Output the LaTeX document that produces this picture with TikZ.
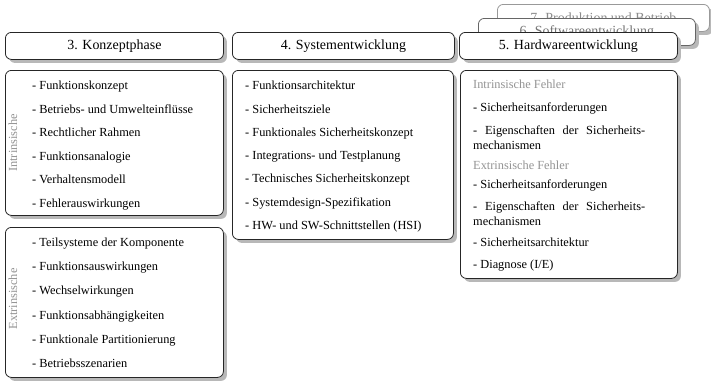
\documentclass[tikz,border=0pt]{standalone}
\usepackage{fontspec}
\setmainfont{Liberation Serif}
\usetikzlibrary{shadows}
\definecolor{lblgray}{gray}{0.58}
\definecolor{edge}{gray}{0.15}
\newcommand{\itmfont}{\fontsize{12.4}{14}\selectfont}
\newcommand{\hdrfont}{\fontsize{14}{16}\selectfont}
\tikzset{
  box/.style={draw=edge, line width=0.8bp, rounded corners=6bp, fill=white,
    anchor=north west, inner sep=0pt,
    drop shadow={shadow xshift=3.5bp, shadow yshift=-3.5bp, fill=black!28, opacity=1}},
  hdr/.style={box, minimum height=27bp, font=\hdrfont},
  item/.style={anchor=base west, inner sep=0pt, font=\itmfont, text=black, yshift=-4bp},
  sidelbl/.style={inner sep=0pt, font=\itmfont, text=lblgray, rotate=90},
  sublbl/.style={item, text=lblgray},
  ghost/.style={box, minimum height=27bp, font=\hdrfont}
}
\begin{document}
\begin{tikzpicture}[x=1bp,y=-1bp]
\useasboundingbox (0,0) rectangle (711,380);
% background phases 7 and 6
\node[ghost, draw=black!40, text=black!45, minimum width=212bp] (h7) at (497,4) {7. Produktion und Betrieb};
\node[ghost, draw=black!60, text=black!55, minimum width=217bp] (h6) at (478,18) {6. Softwareentwicklung};
% headers
\node[hdr, minimum width=218bp] (h3) at (5,32) {3. Konzeptphase};
\node[hdr, minimum width=222bp] (h4) at (232,32) {4. Systementwicklung};
\node[hdr, minimum width=218bp] (h5) at (459,32) {5. Hardwareentwicklung};
% content boxes
\node[box, minimum width=218bp, minimum height=145bp] (c3) at (5,70) {};
\node[box, minimum width=218bp, minimum height=150bp] (c3e) at (5,227) {};
\node[box, minimum width=221bp, minimum height=169bp] (c4) at (232,70) {};
\node[box, minimum width=217bp, minimum height=208bp] (c5) at (460,70) {};
% side labels
\node[sidelbl] (li) at (13,143) {Intrinsische};
\node[sidelbl] (le) at (13,299) {Extrinsische};
% column 3 intrinsic
\node[item] (i1) at (32,85) {- Funktionskonzept};
\node[item] (i2) at (32,109) {- Betriebs- und Umwelteinflüsse};
\node[item] (i3) at (32,132) {- Rechtlicher Rahmen};
\node[item] (i4) at (32,156) {- Funktionsanalogie};
\node[item] (i5) at (32,179) {- Verhaltensmodell};
\node[item] (i6) at (32,203) {- Fehlerauswirkungen};
% column 3 extrinsic
\node[item] (e1) at (32,242) {- Teilsysteme der Komponente};
\node[item] (e2) at (32,266) {- Funktionsauswirkungen};
\node[item] (e3) at (32,290) {- Wechselwirkungen};
\node[item] (e4) at (32,315) {- Funktionsabhängigkeiten};
\node[item] (e5) at (32,339) {- Funktionale Partitionierung};
\node[item] (e6) at (32,363) {- Betriebsszenarien};
% column 4
\node[item] (s1) at (245,85) {- Funktionsarchitektur};
\node[item] (s2) at (245,109) {- Sicherheitsziele};
\node[item] (s3) at (245,132) {- Funktionales Sicherheitskonzept};
\node[item] (s4) at (245,155) {- Integrations- und Testplanung};
\node[item] (s5) at (245,178) {- Technisches Sicherheitskonzept};
\node[item] (s6) at (245,202) {- Systemdesign-Spezifikation};
\node[item] (s7) at (245,225) {- HW- und SW-Schnittstellen (HSI)};
% column 5
\node[sublbl] (hi) at (473,84) {Intrinsische Fehler};
\node[item] (hw1) at (473,107) {- Sicherheitsanforderungen};
\node[item] (hw2) at (473,130) {\makebox[172bp][s]{- Eigenschaften der Sicherheits-}};
\node[item] (hw3) at (473,145) {mechanismen};
\node[sublbl] (he) at (473,165) {Extrinsische Fehler};
\node[item] (hw4) at (473,184) {- Sicherheitsanforderungen};
\node[item] (hw5) at (473,206) {\makebox[172bp][s]{- Eigenschaften der Sicherheits-}};
\node[item] (hw6) at (473,221) {mechanismen};
\node[item] (hw7) at (473,242) {- Sicherheitsarchitektur};
\node[item] (hw8) at (473,264) {- Diagnose (I/E)};
\end{tikzpicture}
\end{document}
